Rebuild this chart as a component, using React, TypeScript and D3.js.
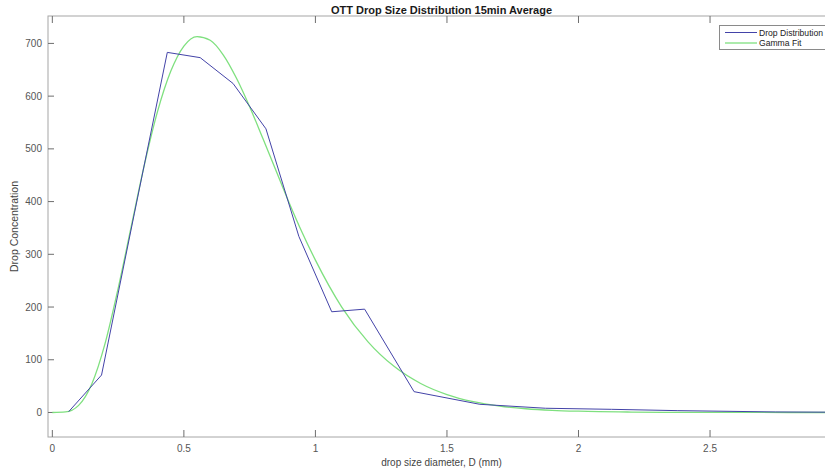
import React from "react";
import * as d3 from "d3";

// Drop size classes (mm) and measured concentration, 15 min average
const dropDiameters = [0.062, 0.187, 0.312, 0.437, 0.562, 0.687, 0.812, 0.937, 1.062, 1.187, 1.375, 1.625, 1.875, 2.125, 2.375, 2.75, 3.25];
const dropConcentration = [1.5, 71, 378, 683, 673, 624, 538, 334, 191, 196, 39.5, 15.5, 8, 6, 3.5, 1, 0];

// Gamma fit curve samples
const fitDiameters = [0, 0.05, 0.1, 0.15, 0.2, 0.25, 0.3, 0.35, 0.4, 0.45, 0.5, 0.55, 0.6, 0.65, 0.7, 0.75, 0.8, 0.85, 0.9, 0.95, 1.0, 1.1, 1.2, 1.3, 1.4, 1.5, 1.6, 1.7, 1.8, 1.9, 2.0, 2.2, 2.4, 2.6, 2.8, 3.0];
const fitConcentration = [0, 1, 13.5, 54, 130, 235, 353, 470, 571, 647, 695, 713, 706, 678, 634, 580, 520, 459, 398, 341, 289, 200, 134, 87, 55, 34, 20.5, 12.2, 7.1, 4.1, 2.4, 0.8, 0.25, 0.1, 0, 0];

const xTicks = [0, 0.5, 1, 1.5, 2, 2.5];
const yTicks = [0, 100, 200, 300, 400, 500, 600, 700];
const xDomain: [number, number] = [-0.0165, 2.975];
const yDomain: [number, number] = [-46.5, 752];

const title = "OTT Drop Size Distribution 15min Average";
const xLabel = "drop size diameter, D (mm)";
const yLabel = "Drop Concentration";
const seriesNames = ["Drop Distribution", "Gamma Fit"];

const W = 825;
const H = 471;
const left = 48;
const right = 835;
const top = 16;
const bottom = 437;

const FONT = "'Liberation Sans', Arial, Helvetica, sans-serif";
const BLUE = "#4343a8";
const GREEN = "#7fe07f";

export default function App() {
  const x = d3.scaleLinear().domain(xDomain).range([left, right]);
  const y = d3.scaleLinear().domain(yDomain).range([bottom, top]);

  const line = d3
    .line<[number, number]>()
    .x((d) => x(d[0]))
    .y((d) => y(d[1]));
  const smooth = d3
    .line<[number, number]>()
    .x((d) => x(d[0]))
    .y((d) => y(d[1]))
    .curve(d3.curveMonotoneX);

  const dropPts = dropDiameters.map((d, i) => [d, dropConcentration[i]] as [number, number]);
  const fitPts = fitDiameters.map((d, i) => [d, fitConcentration[i]] as [number, number]);

  const tickLen = 7;

  return (
    <svg
      width={W}
      height={H}
      style={{ position: "absolute", left: 0, top: 0, background: "#fff" }}
      fontFamily={FONT}
    >
      <defs>
        <clipPath id="plotArea">
          <rect x={left} y={top} width={right - left} height={bottom - top} />
        </clipPath>
      </defs>
      <rect x={0} y={0} width={W} height={H} fill="#fff" />

      {/* axes box */}
      <rect x={left} y={top} width={right - left} height={bottom - top} fill="#fff" stroke="#a6a6a6" strokeWidth={1} />

      {/* x ticks, bottom and top */}
      {xTicks.map((t) => (
        <g key={"xt" + t}>
          <line x1={x(t)} x2={x(t)} y1={bottom} y2={bottom - tickLen} stroke="#6e6e6e" />
          <line x1={x(t)} x2={x(t)} y1={top} y2={top + tickLen} stroke="#6e6e6e" />
          <text x={x(t)} y={bottom + 15} textAnchor="middle" fontSize={10} fill="#555">
            {t}
          </text>
        </g>
      ))}

      {/* y ticks */}
      {yTicks.map((t) => (
        <g key={"yt" + t}>
          <line x1={left} x2={left + tickLen - 1} y1={y(t)} y2={y(t)} stroke="#6e6e6e" />
          <text x={left - 6} y={y(t) + 3.5} textAnchor="end" fontSize={10} fill="#555">
            {t}
          </text>
        </g>
      ))}

      <g clipPath="url(#plotArea)">
        <path d={smooth(fitPts) ?? ""} fill="none" stroke={GREEN} strokeWidth={1.3} />
        <path d={line(dropPts) ?? ""} fill="none" stroke={BLUE} strokeWidth={1} />
      </g>

      {/* labels */}
      <text x={(left + right) / 2} y={14} textAnchor="middle" fontSize={11} fontWeight="bold" fill="#1a1a1a">
        {title}
      </text>
      <text x={(left + right) / 2} y={466} textAnchor="middle" fontSize={10} fill="#444">
        {xLabel}
      </text>
      <text
        transform={`translate(18, ${(top + bottom) / 2}) rotate(-90)`}
        textAnchor="middle"
        fontSize={10.5}
        fill="#444"
      >
        {yLabel}
      </text>

      {/* legend */}
      <g>
        <rect x={719.5} y={25.5} width={112} height={24} fill="#fff" stroke="#8a8a8a" />
        {seriesNames.map((name, i) => (
          <g key={name}>
            <line x1={725} x2={757} y1={32.5 + i * 10.5} y2={32.5 + i * 10.5} stroke={i === 0 ? BLUE : GREEN} strokeWidth={i === 0 ? 1 : 1.3} />
            <text x={759} y={35.5 + i * 10.5} fontSize={8.6} fill="#222">
              {name}
            </text>
          </g>
        ))}
      </g>
    </svg>
  );
}
